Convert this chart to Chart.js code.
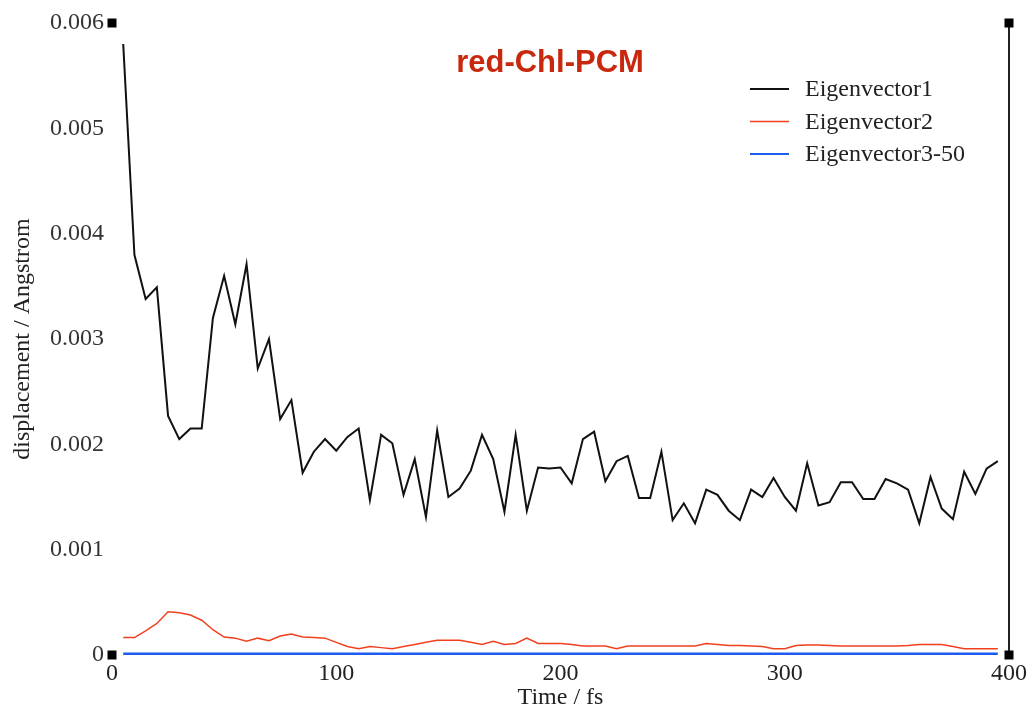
<!DOCTYPE html>
<html>
<head>
<meta charset="utf-8">
<script src="https://cdn.jsdelivr.net/npm/chart.js@4.4.1/dist/chart.umd.min.js"></script>
<style>
    html, body { margin: 0; padding: 0; background: #fff; }
</style>
</head>
<body>
<canvas id="dispChart" width="1031" height="715"></canvas>
<script>
// Time axis (fs)
const times = [5, 10, 15, 20, 25, 30, 35, 40, 45, 50, 55, 60, 65, 70, 75, 80, 85, 90, 95, 100,
    105, 110, 115, 120, 125, 130, 135, 140, 145, 150, 155, 160, 165, 170, 175, 180, 185, 190, 195, 200,
    205, 210, 215, 220, 225, 230, 235, 240, 245, 250, 255, 260, 265, 270, 275, 280, 285, 290, 295, 300,
    305, 310, 315, 320, 325, 330, 335, 340, 345, 350, 355, 360, 365, 370, 375, 380, 385, 390, 395];

// displacement / Angstrom
const eig1 = [0.0058, 0.0038, 0.00338, 0.00349, 0.00227, 0.00205, 0.00215, 0.00215, 0.0032, 0.0036,
    0.00314, 0.00371, 0.00272, 0.0030, 0.00224, 0.00242, 0.00173, 0.00193, 0.00205, 0.00194,
    0.00207, 0.00215, 0.00147, 0.00209, 0.00201, 0.00152, 0.00186, 0.00131, 0.00213, 0.0015,
    0.00158, 0.00175, 0.00209, 0.00186, 0.00136, 0.00209, 0.00137, 0.00178, 0.00177, 0.00178,
    0.00163, 0.00205, 0.00212, 0.00165, 0.00184, 0.00189, 0.00149, 0.00149, 0.00193, 0.00128,
    0.00144, 0.00125, 0.00157, 0.00152, 0.00137, 0.00128, 0.00157, 0.0015, 0.00168, 0.0015,
    0.00137, 0.00182, 0.00142, 0.00145, 0.00164, 0.00164, 0.00148, 0.00148, 0.00167, 0.00163,
    0.00157, 0.00125, 0.00169, 0.00139, 0.00129, 0.00174, 0.00153, 0.00177, 0.00184];

const eig2 = [0.000165, 0.000165, 0.00023, 0.0003, 0.00041, 0.0004, 0.00038, 0.00033, 0.00024, 0.00017,
    0.00016, 0.00013, 0.00016, 0.000135, 0.00018, 0.0002, 0.00017, 0.000165, 0.00016, 0.00012,
    0.00008, 0.00006, 0.00008, 0.00007, 0.00006, 0.00008, 0.0001, 0.00012, 0.00014, 0.00014,
    0.00014, 0.00012, 0.0001, 0.00013, 0.0001, 0.00011, 0.00016, 0.00011, 0.00011, 0.00011,
    0.0001, 0.000085, 0.000085, 0.000085, 0.00006, 0.000085, 0.000085, 0.000085, 0.000085, 0.000085,
    0.000085, 0.000085, 0.00011, 0.0001, 0.00009, 0.00009, 0.000085, 0.00008, 0.00006, 0.00006,
    0.00009, 0.000095, 0.000095, 0.00009, 0.000085, 0.000085, 0.000085, 0.000085, 0.000085, 0.000085,
    0.00009, 0.0001, 0.0001, 0.0001, 0.00008, 0.00006, 0.00006, 0.00006, 0.00006];

const eig3 = [0.00001, 0.00001, 0.00001, 0.00001, 0.00001, 0.00001, 0.00001, 0.00001, 0.00001, 0.00001,
    0.00001, 0.00001, 0.00001, 0.00001, 0.00001, 0.00001, 0.00001, 0.00001, 0.00001, 0.00001,
    0.00001, 0.00001, 0.00001, 0.00001, 0.00001, 0.00001, 0.00001, 0.00001, 0.00001, 0.00001,
    0.00001, 0.00001, 0.00001, 0.00001, 0.00001, 0.00001, 0.00001, 0.00001, 0.00001, 0.00001,
    0.00001, 0.00001, 0.00001, 0.00001, 0.00001, 0.00001, 0.00001, 0.00001, 0.00001, 0.00001,
    0.00001, 0.00001, 0.00001, 0.00001, 0.00001, 0.00001, 0.00001, 0.00001, 0.00001, 0.00001,
    0.00001, 0.00001, 0.00001, 0.00001, 0.00001, 0.00001, 0.00001, 0.00001, 0.00001, 0.00001,
    0.00001, 0.00001, 0.00001, 0.00001, 0.00001, 0.00001, 0.00001, 0.00001, 0.00001];

const seriesNames = ["Eigenvector1", "Eigenvector2", "Eigenvector3-50"];
const seriesColors = ["#111111", "#f2401f", "#1e5bf0"];
const xTicks = [0, 100, 200, 300, 400];
const yTicks = [0, 0.001, 0.002, 0.003, 0.004, 0.005, 0.006];

const serif = '"Liberation Serif", "Times New Roman", serif';

function toPoints(values) {
    return values.map((v, i) => ({ x: times[i], y: v }));
}

// frame, corner squares, title and legend
const decor = {
    id: "decor",
    afterDatasetsDraw(chart) {
        const { ctx, chartArea: a } = chart;
        ctx.save();
        ctx.strokeStyle = "#222";
        ctx.lineWidth = 2;
        ctx.beginPath();
        ctx.moveTo(a.right, a.top);
        ctx.lineTo(a.right, a.bottom);
        ctx.stroke();

        ctx.fillStyle = "#000";
        [[a.left, a.top], [a.left, a.bottom], [a.right, a.top], [a.right, a.bottom]].forEach(([x, y]) => {
            ctx.fillRect(x - 4.5, y - 4.5, 9, 9);
        });

        ctx.font = 'bold 31px "Liberation Sans", Arial, sans-serif';
        ctx.fillStyle = "#c8280e";
        ctx.textAlign = "center";
        ctx.textBaseline = "alphabetic";
        ctx.fillText("red-Chl-PCM", 550, 72);

        ctx.font = "24px " + serif;
        ctx.textAlign = "left";
        ctx.textBaseline = "middle";
        chart.data.datasets.forEach((ds, i) => {
            const y = 89 + i * 32.5;
            ctx.strokeStyle = ds.borderColor;
            ctx.lineWidth = i === 1 ? 1.5 : 2;
            ctx.beginPath();
            ctx.moveTo(750, y);
            ctx.lineTo(789, y);
            ctx.stroke();
            ctx.fillStyle = "#222";
            ctx.fillText(ds.label, 805, y + 1);
        });
        ctx.restore();
    }
};

const ctx = document.getElementById("dispChart");

new Chart(ctx, {
    type: "line",
    data: {
        datasets: [
            {
                label: seriesNames[0],
                data: toPoints(eig1),
                borderColor: seriesColors[0],
                borderWidth: 2,
            },
            {
                label: seriesNames[1],
                data: toPoints(eig2),
                borderColor: seriesColors[1],
                borderWidth: 1.5,
            },
            {
                label: seriesNames[2],
                data: toPoints(eig3),
                borderColor: seriesColors[2],
                borderWidth: 3,
            },
        ],
    },
    options: {
        responsive: false,
        animation: false,
        events: [],
        layout: {
            padding: { top: 23, right: 21, left: 0, bottom: 0 },
        },
        elements: {
            point: { radius: 0 },
            line: { tension: 0 },
        },
        plugins: {
            legend: { display: false },
            tooltip: { enabled: false },
        },
        scales: {
            x: {
                type: "linear",
                min: 0,
                max: 400,
                afterBuildTicks: (scale) => {
                    scale.ticks = xTicks.map((v) => ({ value: v }));
                },
                afterFit: (scale) => {
                    scale.height = 60;
                },
                grid: { display: false, drawTicks: false },
                border: { display: false },
                ticks: {
                    padding: 4,
                    color: "#222",
                    font: { family: serif, size: 24 },
                    maxRotation: 0,
                    callback: (v) => String(v),
                },
                title: {
                    display: true,
                    text: "Time / fs",
                    color: "#222",
                    font: { family: serif, size: 24 },
                    padding: { top: 0, bottom: 3 },
                },
            },
            y: {
                min: 0,
                max: 0.006,
                afterBuildTicks: (scale) => {
                    scale.ticks = yTicks.map((v) => ({ value: v }));
                },
                afterFit: (scale) => {
                    scale.width = 112;
                },
                grid: { display: false, drawTicks: false },
                border: { display: false },
                ticks: {
                    padding: 8,
                    color: "#333",
                    font: { family: serif, size: 24 },
                    callback: (v) => (v === 0 ? "0" : v.toFixed(3)),
                },
                title: {
                    display: true,
                    text: "displacement / Angstrom",
                    color: "#222",
                    font: { family: serif, size: 24 },
                    padding: { top: 8, bottom: 0 },
                },
            },
        },
    },
    plugins: [decor],
});
</script>
</body>
</html>
